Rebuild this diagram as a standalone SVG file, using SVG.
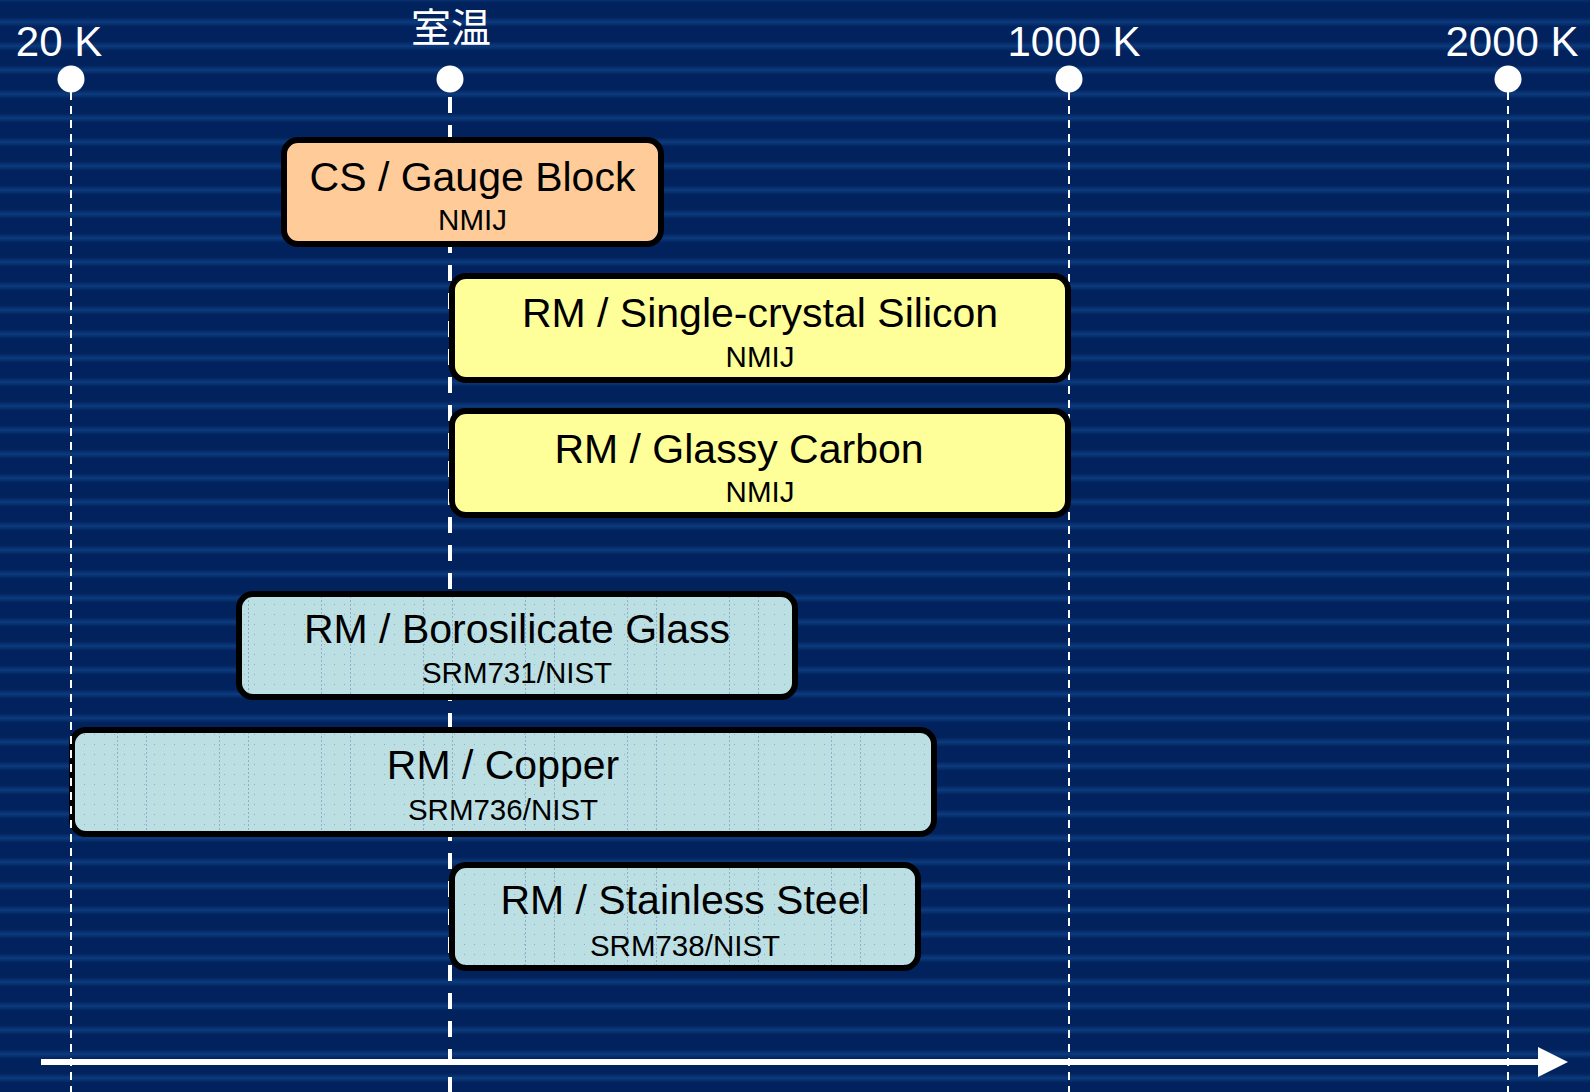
<svg xmlns="http://www.w3.org/2000/svg" width="1590" height="1092" viewBox="0 0 1590 1092">
  <defs>
    <linearGradient id="stripeGrad" x1="0" y1="0" x2="0" y2="1">
      <stop offset="0" stop-color="#01225d"/>
      <stop offset="0.3" stop-color="#01225d"/>
      <stop offset="0.5" stop-color="#0c3b7d"/>
      <stop offset="0.7" stop-color="#01225d"/>
      <stop offset="1" stop-color="#01225d"/>
    </linearGradient>
    <pattern id="stripes" patternUnits="userSpaceOnUse" x="0" y="10" width="1590" height="24">
      <rect width="1590" height="24" fill="url(#stripeGrad)"/>
    </pattern>
    <pattern id="dots" patternUnits="userSpaceOnUse" x="0" y="0" width="10" height="10">
      <rect width="10" height="10" fill="#bcdfe3"/>
      <rect x="4" y="4" width="1" height="1" fill="#8eaec6"/>
    </pattern>
    <pattern id="vlines" patternUnits="userSpaceOnUse" x="15" y="0" width="102" height="4">
      <rect x="0" y="0" width="1" height="2" fill="#90aec8"/>
      <rect x="29" y="0" width="1" height="2" fill="#90aec8"/>
    </pattern>
    <style>
      .box { stroke: #000; stroke-width: 6; }
      .peach { fill: #ffcc99; }
      .yellow { fill: #ffff99; }
      .teal { fill: url(#dots); }
      .tex { fill: url(#vlines); }
      .title { font-family: "Liberation Sans", Arial, sans-serif; font-size: 41px; fill: #000; text-anchor: middle; }
      .sub { font-family: "Liberation Sans", Arial, sans-serif; font-size: 29.5px; fill: #000; text-anchor: middle; }
      .axlabel { font-family: "Liberation Sans", Arial, sans-serif; font-size: 42px; fill: #fff; text-anchor: middle; }
      .cjk { font-family: "Liberation Sans", "Noto Sans CJK JP", sans-serif; font-size: 40px; fill: #fff; text-anchor: middle; }
      .thin { stroke: #fff; stroke-width: 2; stroke-dasharray: 8 6; fill: none; }
      .thick { stroke: #fff; stroke-width: 4; stroke-dasharray: 16 12; fill: none; }
    </style>
  </defs>

  <rect id="background" x="0" y="0" width="1590" height="1092" fill="url(#stripes)"/>

  <g id="axis-lines">
    <line class="thick" x1="450" y1="97" x2="450" y2="1092"/>
    <line class="thin" x1="1069" y1="92" x2="1069" y2="1092"/>
    <line class="thin" x1="1508" y1="92" x2="1508" y2="1092"/>
  </g>

  <g id="ticks">
    <g id="tick-20K">
      <circle cx="71" cy="79" r="13.5" fill="#fff"/>
      <text class="axlabel" x="59" y="56">20 K</text>
    </g>
    <g id="tick-room">
      <circle cx="450" cy="79" r="13.5" fill="#fff"/>
      <text class="cjk" x="451" y="42">室温</text>
    </g>
    <g id="tick-1000K">
      <circle cx="1069" cy="79" r="13.5" fill="#fff"/>
      <text class="axlabel" x="1074" y="56">1000 K</text>
    </g>
    <g id="tick-2000K">
      <circle cx="1508" cy="79" r="13.5" fill="#fff"/>
      <text class="axlabel" x="1512" y="56">2000 K</text>
    </g>
  </g>

  <g id="node-gauge-block">
    <rect class="box peach" x="284" y="140" width="377" height="104" rx="14"/>
    <text class="title" x="472.5" y="191">CS / Gauge Block</text>
    <text class="sub" x="472.5" y="230">NMIJ</text>
  </g>

  <g id="node-silicon">
    <rect class="box yellow" x="452" y="276" width="616" height="104" rx="14"/>
    <text class="title" x="760" y="327">RM / Single-crystal Silicon</text>
    <text class="sub" x="760" y="367">NMIJ</text>
  </g>

  <g id="node-glassy-carbon">
    <rect class="box yellow" x="452" y="411" width="616" height="104" rx="14"/>
    <text class="title" x="739" y="463">RM / Glassy Carbon</text>
    <text class="sub" x="760" y="502">NMIJ</text>
  </g>

  <g id="node-borosilicate">
    <rect class="box teal" x="239" y="594" width="556" height="103" rx="14"/>
    <rect class="tex" x="242" y="597" width="550" height="97" rx="11"/>
    <text class="title" x="517" y="643">RM / Borosilicate Glass</text>
    <text class="sub" x="517" y="683">SRM731/NIST</text>
  </g>

  <g id="node-copper">
    <rect class="box teal" x="72" y="730" width="862" height="104" rx="14"/>
    <rect class="tex" x="75" y="733" width="856" height="98" rx="11"/>
    <text class="title" x="503" y="779">RM / Copper</text>
    <text class="sub" x="503" y="820">SRM736/NIST</text>
  </g>

  <g id="node-stainless">
    <rect class="box teal" x="452" y="865" width="466" height="103" rx="14"/>
    <rect class="tex" x="455" y="868" width="460" height="97" rx="11"/>
    <text class="title" x="685" y="914">RM / Stainless Steel</text>
    <text class="sub" x="685" y="956">SRM738/NIST</text>
  </g>

  <g id="axis-front">
    <line class="thin" x1="71" y1="92" x2="71" y2="1092"/>
  </g>

  <g id="connectors">
    <line x1="41" y1="1062" x2="1542" y2="1062" stroke="#fff" stroke-width="6"/>
    <polygon points="1538,1047 1568,1062 1538,1077" fill="#fff"/>
  </g>
</svg>
